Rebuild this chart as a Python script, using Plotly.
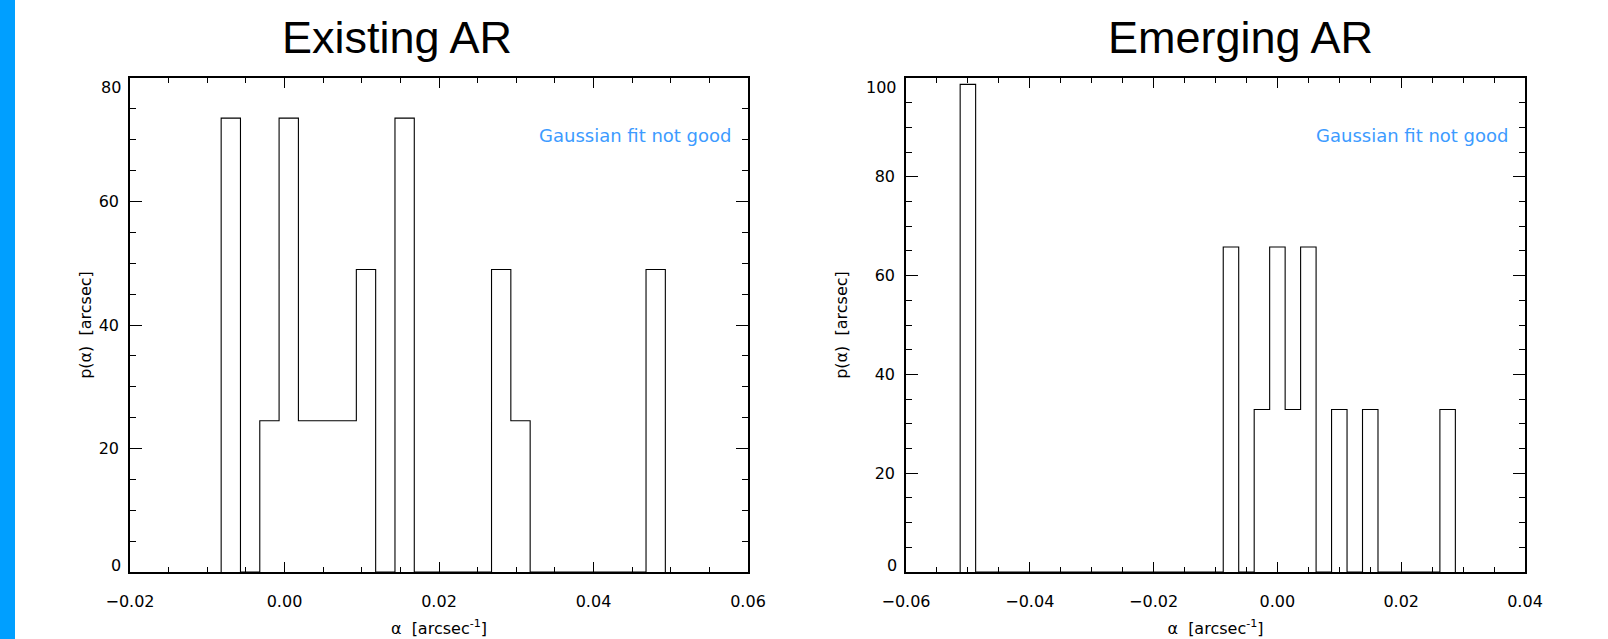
import plotly.graph_objects as go

# Histogram bin centres (alpha, arcsec^-1) and probability density p(alpha)
bin_width = 0.0025

existing_alpha = [-0.00695, -0.00445, -0.00195, 0.00055, 0.00305, 0.00555, 0.00805,
                  0.01055, 0.01305, 0.01555, 0.01805, 0.02055, 0.02305, 0.02555,
                  0.02805, 0.03055, 0.03305, 0.03555, 0.03805, 0.04055, 0.04305,
                  0.04555, 0.04805]
existing_p = [73.5, 0, 24.5, 73.5, 24.5, 24.5, 24.5, 49.0, 0, 73.5, 0, 0, 0, 0,
              49.0, 24.5, 0, 0, 0, 0, 0, 0, 49.0]

emerging_alpha = [-0.0500, -0.0475, -0.0450, -0.0425, -0.0400, -0.0375, -0.0350,
                  -0.0325, -0.0300, -0.0275, -0.0250, -0.0225, -0.0200, -0.0175,
                  -0.0150, -0.0125, -0.0100, -0.0075, -0.0050, -0.0025, 0.0000,
                  0.0025, 0.0050, 0.0075, 0.0100, 0.0125, 0.0150, 0.0175, 0.0200,
                  0.0225, 0.0250, 0.0275]
emerging_p = [98.7, 0, 0, 0, 0, 0, 0, 0, 0, 0, 0, 0, 0, 0, 0, 0, 0,
              65.8, 0, 32.9, 65.8, 32.9, 65.8, 0, 32.9, 0, 32.9, 0, 0, 0, 0, 32.9]

# y tick values; the two end labels are kept inside the frame
existing_yticks = [0, 20, 40, 60, 80]
emerging_yticks = [0, 20, 40, 60, 80, 100]

panel_titles = ["Existing AR", "Emerging AR"]
note_text = "Gaussian fit not good"
x_title = "α  [arcsec<sup>-1</sup>]"
y_title = "p(α)  [arcsec]"

W, H = 1608, 639
tick_font = dict(family="DejaVu Sans", size=16, color="black")
label_font = dict(family="DejaVu Sans", size=16, color="black")


def step_outline(centres, values, width):
    """Histogram outline drawn as a staircase through the bin edges."""
    edges = [c - width / 2 for c in centres] + [centres[-1] + width / 2]
    xs = [edges[0]] + edges[:-1] + [edges[-1]]
    ys = [0] + list(values) + [0]
    return xs, ys


fig = go.Figure()

panels = [
    dict(alpha=existing_alpha, p=existing_p, yticks=existing_yticks,
         xr=[-0.02, 0.06], xdom=[130 / W, 748 / W], title_x=397 / W,
         ytitle_standoff=3, xa="x", ya="y"),
    dict(alpha=emerging_alpha, p=emerging_p, yticks=emerging_yticks,
         xr=[-0.06, 0.04], xdom=[906 / W, 1525 / W], title_x=1240 / W,
         ytitle_standoff=23, xa="x2", ya="y2"),
]
ydom = [1 - 572 / H, 1 - 78 / H]

for i, pnl in enumerate(panels):
    xs, ys = step_outline(pnl["alpha"], pnl["p"], bin_width)
    fig.add_trace(go.Scatter(x=xs, y=ys, mode="lines", line_shape="hv",
                             line=dict(color="black", width=1.1),
                             xaxis=pnl["xa"], yaxis=pnl["ya"],
                             showlegend=False, hoverinfo="skip"))
    sfx = "" if i == 0 else "2"
    yt = pnl["yticks"]
    fig.layout["xaxis" + sfx] = dict(
        domain=pnl["xdom"], range=pnl["xr"], anchor="y" + sfx, automargin=False,
        dtick=0.02, tickformat=".2f", ticks="inside", ticklen=10, tickwidth=1,
        tickcolor="black", showline=True, linecolor="black", linewidth=1.5,
        mirror="allticks", showgrid=False, zeroline=False, tickfont=tick_font,
        ticklabelstandoff=14,
        minor=dict(dtick=0.005, ticks="inside", ticklen=5, tickwidth=1,
                   tickcolor="black", showgrid=False),
        title=dict(text=x_title, font=label_font, standoff=13),
    )
    fig.layout["yaxis" + sfx] = dict(
        domain=ydom, range=[yt[0], yt[-1]], anchor="x" + sfx, automargin=False,
        tickvals=yt[1:-1], ticks="inside", ticklen=12, tickwidth=1,
        tickcolor="black", showline=True, linecolor="black", linewidth=1.5,
        mirror="allticks", showgrid=False, zeroline=False, tickfont=tick_font,
        ticklabelstandoff=6,
        minor=dict(dtick=5, ticks="inside", ticklen=6, tickwidth=1,
                   tickcolor="black", showgrid=False),
        title=dict(text=y_title, font=label_font,
                   standoff=pnl["ytitle_standoff"]),
    )
    # end labels of the y axis, nudged inside the frame
    for val, shift in ((yt[0], 7), (yt[-1], -10)):
        fig.add_annotation(text=str(val), xref="x" + sfx + " domain",
                           yref="y" + sfx, x=0, y=val, xanchor="right",
                           yanchor="middle", xshift=-7, yshift=shift,
                           showarrow=False, font=tick_font)
    # panel title
    fig.add_annotation(text=panel_titles[i], xref="paper", yref="paper",
                       x=pnl["title_x"], y=1 - 38 / H, xanchor="center",
                       yanchor="middle", showarrow=False,
                       font=dict(family="Liberation Sans", size=45, color="black"))
    # fit-quality note
    fig.add_annotation(text=note_text, xref="x" + sfx + " domain",
                       yref="y" + sfx + " domain",
                       x=1 - 14 / ((pnl["xdom"][1] - pnl["xdom"][0]) * W),
                       y=(572 - 135) / (572 - 78),
                       xanchor="right", yanchor="middle", showarrow=False,
                       font=dict(family="DejaVu Sans", size=18, color="#3D9BFF"))

# accent bar along the left edge
fig.add_shape(type="rect", xref="paper", yref="paper", x0=0, x1=15 / W,
              y0=0, y1=1, fillcolor="#009FFF", line=dict(width=0), layer="above")

fig.update_layout(width=W, height=H, autosize=False,
                  margin=dict(l=0, r=0, t=0, b=0, pad=0, autoexpand=False),
                  paper_bgcolor="white", plot_bgcolor="white")

fig.write_html("out.html")
